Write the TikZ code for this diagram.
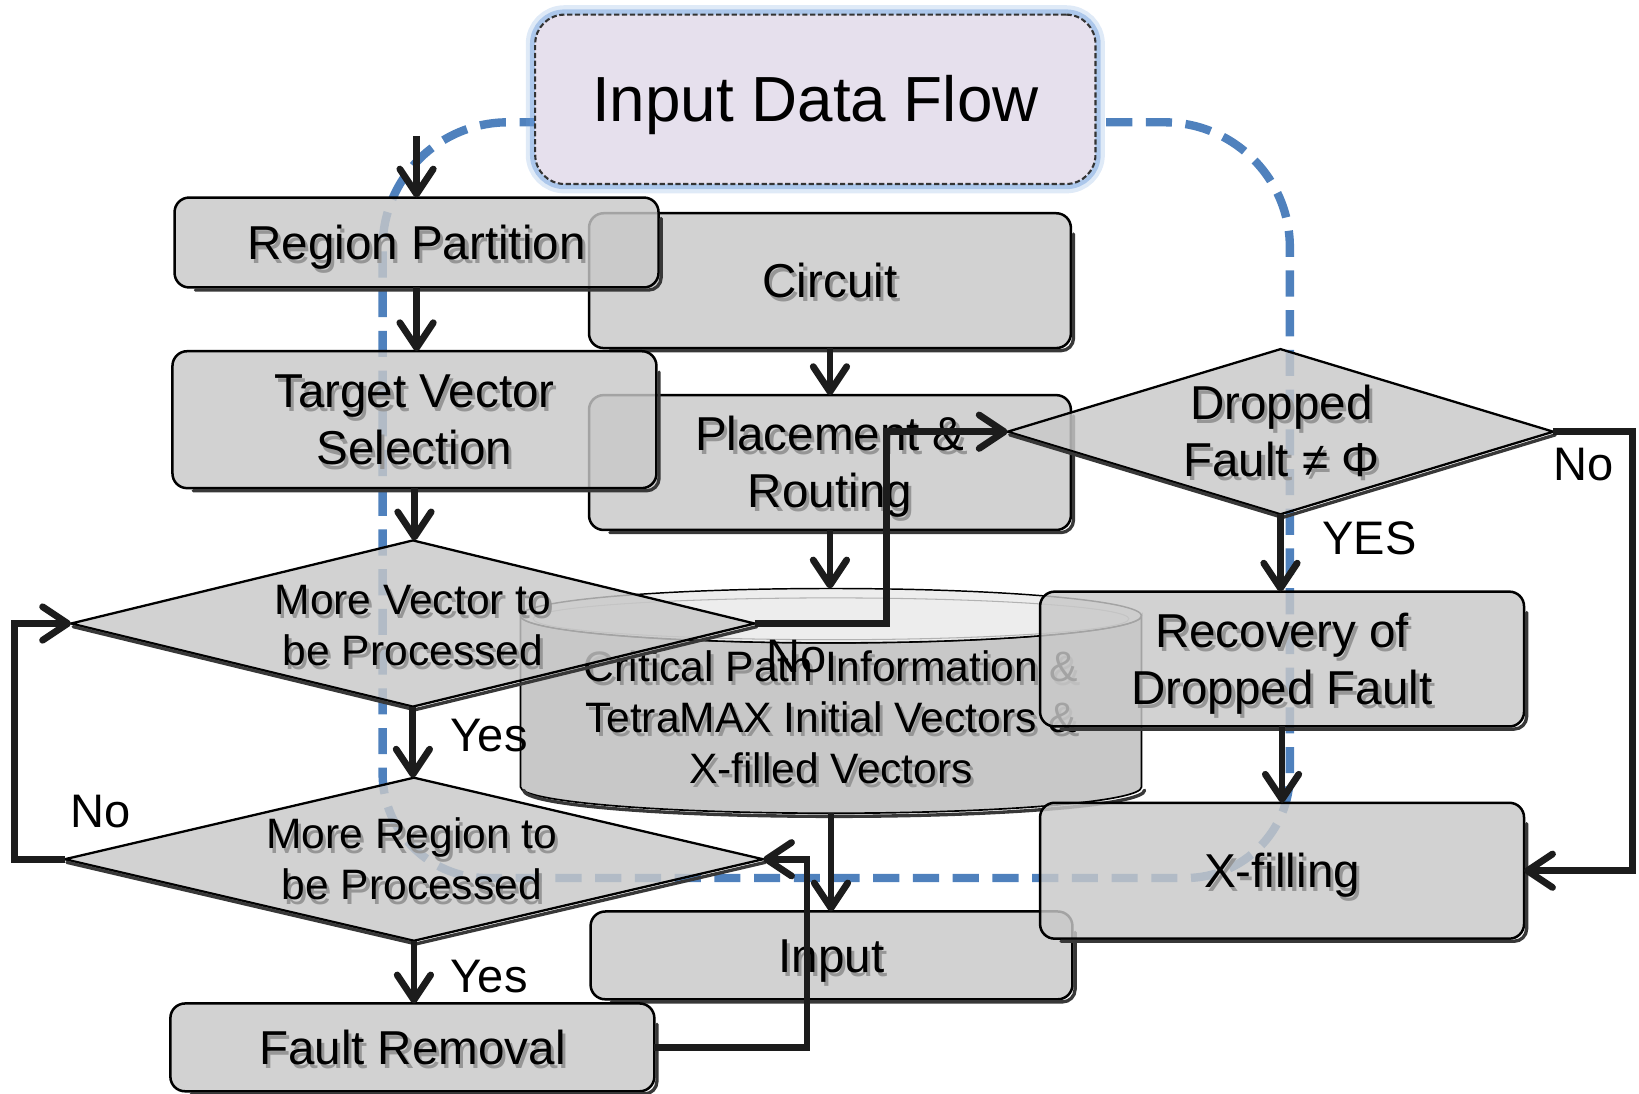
\documentclass[tikz,border=0pt]{standalone}
\usepackage{fontspec}
\setmainfont{Liberation Sans}
\usetikzlibrary{shapes.geometric,arrows.meta,calc}

\definecolor{boxgray}{RGB}{200,200,200}
\definecolor{flowblue}{RGB}{79,129,189}
\definecolor{glowblue}{RGB}{110,158,220}
\definecolor{idffill}{RGB}{230,224,237}
\definecolor{topgray}{RGB}{237,237,237}
\definecolor{ghost}{RGB}{150,150,150}
\definecolor{ink}{RGB}{28,28,28}

% text with a soft grey drop shadow
\newcommand\shd[1]{\leavevmode\rlap{\hspace{3pt}\raisebox{-4pt}{\textcolor{ghost}{#1}}}#1}
% box text, stacked and set a little lower than the geometric centre
\newcommand\bx[1]{\raisebox{0pt}[\dimexpr\height+10pt\relax][\depth]{\begin{tabular}{@{}c@{}}#1\end{tabular}}}

\begin{document}
\begin{tikzpicture}[x=1pt,y=-1pt,
  box/.style={draw=black, line width=2.4pt, fill=boxgray, fill opacity=0.82,
    text opacity=1, rounded corners=14pt, inner sep=0pt, outer sep=0pt,
    font=\fontsize{45.5}{54.6}\selectfont},
  dia/.style={diamond, draw=black, line width=2.2pt, fill=boxgray, fill opacity=0.82,
    inner sep=0pt, outer sep=0pt},
  diatext/.style={align=center, inner sep=0pt, font=\fontsize{40.7}{48.8}\selectfont},
  bigtext/.style={align=center, inner sep=0pt, font=\fontsize{45.5}{54.6}\selectfont},
  shade/.style={draw=black!78, line width=3.2pt, rounded corners=12pt, line cap=round},
  dshade/.style={draw=black!78, line width=3.2pt, line cap=round},
  arr/.style={draw=ink, line width=6.5pt, -{Straight Barb[length=24pt,width=32pt,round]}},
  lbl/.style={inner sep=0pt, font=\fontsize{45}{54}\selectfont},
  flowline/.style={draw=flowblue, line width=8pt, dash pattern=on 25pt off 13pt},
  idfbox/.style={draw=black!80, line width=2pt, dash pattern=on 5pt off 2.5pt,
    fill=idffill, rounded corners=28pt, inner sep=0pt,
    font=\fontsize{61}{73}\selectfont,
    preaction={draw=glowblue, solid, line width=18pt, opacity=0.22},
    preaction={draw=glowblue, solid, line width=10pt, opacity=0.45}},
]
\useasboundingbox (0,0) rectangle (1568,1046);

% the data-flow loop, drawn first so that the boxes veil it
\draw[flowline] (560,117) -- (486,117)
  arc[start angle=270, end angle=180, radius=120] -- (366,740)
  arc[start angle=180, end angle=90, radius=100] -- (1134,840)
  arc[start angle=90, end angle=0, radius=100] -- (1234,237)
  arc[start angle=0, end angle=-90, radius=120] -- (1000,117);

% middle column
\node[box, minimum width=461pt, minimum height=129pt] (circ) at (794,268.5) {\bx{\shd{Circuit}}};
\draw[shade] ([shift={(2.5,20)}]circ.north east) -- ([shift={(2.5,2.5)}]circ.south east) -- ([shift={(20,2.5)}]circ.south west);
\node[box, minimum width=461pt, minimum height=129pt] (pr) at (794,442.5) {\bx{\shd{Placement \&}\\\shd{Routing}}};
\draw[shade] ([shift={(2.5,20)}]pr.north east) -- ([shift={(2.5,2.5)}]pr.south east) -- ([shift={(20,2.5)}]pr.south west);
\node[box, minimum width=461pt, minimum height=84pt] (inp) at (795.5,914) {\bx{\shd{Input}}};
\draw[shade] ([shift={(2.5,20)}]inp.north east) -- ([shift={(2.5,2.5)}]inp.south east) -- ([shift={(20,2.5)}]inp.south west);

% database cylinder
\draw[line width=1.6pt, fill=boxgray] (498,589) -- (498,753)
  arc[start angle=180, end angle=0, x radius=297, y radius=25] -- (1092,589)
  arc[start angle=0, end angle=180, x radius=297, y radius=26] -- cycle;
\draw[dshade] (501,756) arc[start angle=180, end angle=0, x radius=297, y radius=25];
\draw[line width=1.4pt, fill=topgray] (795,589) ellipse[x radius=297, y radius=26];
\draw[black!30, line width=1pt] (795,592) ellipse[x radius=285, y radius=20];
\coordinate (dbtop) at (795,563);
\coordinate (dbbot) at (795,778);
\node[diatext] (db) at (795,688) {\shd{Critical Path Information \&}\\\shd{TetraMAX Initial Vectors \&}\\\shd{X-filled Vectors}};

% left column
\node[box, minimum width=463pt, minimum height=86pt] (rp) at (398.5,232) {\bx{\shd{Region Partition}}};
\draw[shade] ([shift={(2.5,20)}]rp.north east) -- ([shift={(2.5,2.5)}]rp.south east) -- ([shift={(20,2.5)}]rp.south west);
\node[box, minimum width=463pt, minimum height=131pt] (tvs) at (396.5,401.5) {\bx{\shd{Target Vector}\\\shd{Selection}}};
\draw[shade] ([shift={(2.5,20)}]tvs.north east) -- ([shift={(2.5,2.5)}]tvs.south east) -- ([shift={(20,2.5)}]tvs.south west);
\node[box, minimum width=463pt, minimum height=84pt] (fr) at (394.5,1002) {\bx{\shd{Fault Removal}}};
\draw[shade] ([shift={(2.5,20)}]fr.north east) -- ([shift={(2.5,2.5)}]fr.south east) -- ([shift={(20,2.5)}]fr.south west);

% decisions
\node[dia, minimum width=654pt, minimum height=159pt] (mv) at (395,596.5) {};
\draw[dshade] ([shift={(2,3)}]mv.west) -- ([shift={(2,3)}]mv.south) -- ([shift={(2,3)}]mv.east);
\node[diatext] (mvt) at (395,600) {\shd{More Vector to}\\\shd{be Processed}};
\node[dia, minimum width=668pt, minimum height=156pt] (mr) at (396,822) {};
\draw[dshade] ([shift={(2,3)}]mr.west) -- ([shift={(2,3)}]mr.south) -- ([shift={(2,3)}]mr.east);
\node[diatext] (mrt) at (394,824) {\shd{More Region to}\\\shd{be Processed}};
\node[dia, minimum width=522pt, minimum height=158pt] (dd) at (1225,413) {};
\draw[dshade] ([shift={(2,3)}]dd.west) -- ([shift={(2,3)}]dd.south) -- ([shift={(2,3)}]dd.east);
\node[bigtext] (ddt) at (1226,414) {\shd{Dropped}\\\shd{Fault ≠ Φ}};

% right column
\node[box, minimum width=463pt, minimum height=129pt] (rec) at (1226.5,630.5) {\bx{\shd{Recovery of}\\\shd{Dropped Fault}}};
\draw[shade] ([shift={(2.5,20)}]rec.north east) -- ([shift={(2.5,2.5)}]rec.south east) -- ([shift={(20,2.5)}]rec.south west);
\node[box, minimum width=463pt, minimum height=130pt] (xf) at (1226.5,833) {\bx{\shd{X-filling}}};
\draw[shade] ([shift={(2.5,20)}]xf.north east) -- ([shift={(2.5,2.5)}]xf.south east) -- ([shift={(20,2.5)}]xf.south west);

% source of the data flow
\node[idfbox, minimum width=536pt, minimum height=162pt] (idf) at (780,95) {\raisebox{0pt}[\dimexpr\height+10pt\relax][\depth]{Input Data Flow}};

% connectors
\coordinate (rpin) at (398.5,130);
\coordinate (mvno) at (848,596.5);
\coordinate (mrno) at (14,822);
\coordinate (frup) at (772,822);
\coordinate (ddno) at (1562,413);

\draw[arr] (rpin) -- (rp.north);
\draw[arr] (rp.south) -- (rp.south |- tvs.north);
\draw[arr] (tvs.south) -- (tvs.south |- mv.north);
\draw[arr] (circ.south) -- (pr.north);
\draw[arr] (pr.south) -- (pr.south |- dbtop);
\draw[arr] (mv.east) -- (mvno) |- (dd.west);
\draw[arr] (mv.south) -- (mv.south |- mr.north);
\draw[arr] (mr.west) -- (mrno) |- (mv.west);
\draw[arr] (mr.south) -- (mr.south |- fr.north);
\draw[arr] (fr.east) -| (frup) -- (mr.east);
\draw[arr] (dbbot) -- (dbbot |- inp.north);
\draw[arr] (dd.south) -- (dd.south |- rec.north);
\draw[arr] (dd.east) -- (ddno) |- (xf.east);
\draw[arr] (rec.south) -- (xf.north);

% branch labels
\node[lbl] (l1) at (762,628) {No};
\node[lbl] (l2) at (468,704) {Yes};
\node[lbl] (l3) at (96,776) {No};
\node[lbl] (l4) at (468,934) {Yes};
\node[lbl] (l5) at (1310,515) {YES};
\node[lbl] (l6) at (1515,444) {No};
\end{tikzpicture}
\end{document}
